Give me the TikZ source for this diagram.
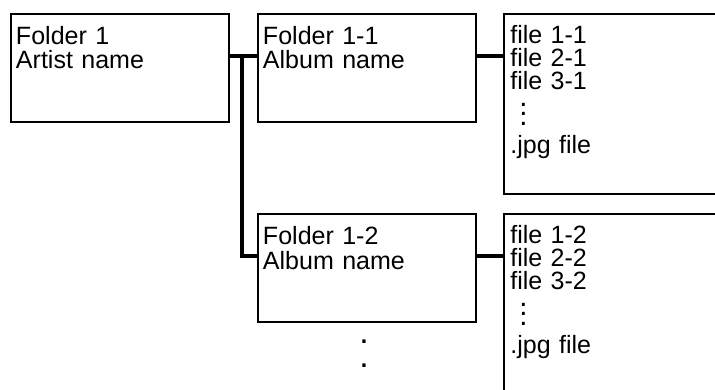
\documentclass[tikz,border=0pt]{standalone}
\usepackage{fontspec}
\setmainfont{Liberation Sans}
\usepackage{tikz}
\newcommand{\filedots}{\hspace*{6.3pt}\vbox{\fontsize{21pt}{6.85pt}\selectfont\baselineskip=6.85pt\lineskiplimit=-20pt\hbox{.}\hbox{.}\hbox{.}}}

\begin{document}
\begin{tikzpicture}[x=0.025cm,y=-0.025cm,
  folder/.style={draw,line width=1.4pt,anchor=north west,align=left,text width=5.2cm,inner xsep=0.125cm,inner ysep=0pt,text height=0.775cm,text depth=1.925cm,font=\fontsize{17.8pt}{17.07pt}\selectfont},
  files/.style={draw,line width=1.4pt,anchor=north west,align=left,text width=7cm,inner xsep=0.16cm,inner ysep=0pt,text height=0.75cm,text depth=3.75cm,font=\fontsize{17.8pt}{16.3pt}\selectfont},
  link/.style={line width=2.5pt}]
\useasboundingbox (0,0) rectangle (715,389);
\clip (0,0) rectangle (715,389);
% folders
\node[folder] (f1) at (10,13) {Folder 1\\Artist name};
\node[folder] (f11) at (257,13) {Folder 1-1\\Album name};
\node[folder] (f12) at (257,213) {Folder 1-2\\Album name};
% file lists
\node[files] (l11) at (503,13) {file 1-1\\file 2-1\\file 3-1\\[8.95pt]\filedots\\[4pt].jpg file};
\node[files] (l12) at (503,213) {file 1-2\\file 2-2\\file 3-2\\[8.95pt]\filedots\\[4pt].jpg file};
\node[font=\fontsize{24pt}{17pt}\selectfont,anchor=base] (more) at (364,367) {\vbox{\baselineskip=17.07pt\hbox{.}\hbox{.}}};
% tree lines
\coordinate (br) at (242,56);
\draw[link] ([yshift=-1.075cm]f1.north east)--([yshift=-1.075cm]f11.north west);
\draw[link] (br) |- ([yshift=-1.075cm]f12.north west);
\draw[link] ([yshift=-1.075cm]f11.north east)--([yshift=-1.075cm]l11.north west);
\draw[link] ([yshift=-1.075cm]f12.north east)--([yshift=-1.075cm]l12.north west);
\end{tikzpicture}
\end{document}
